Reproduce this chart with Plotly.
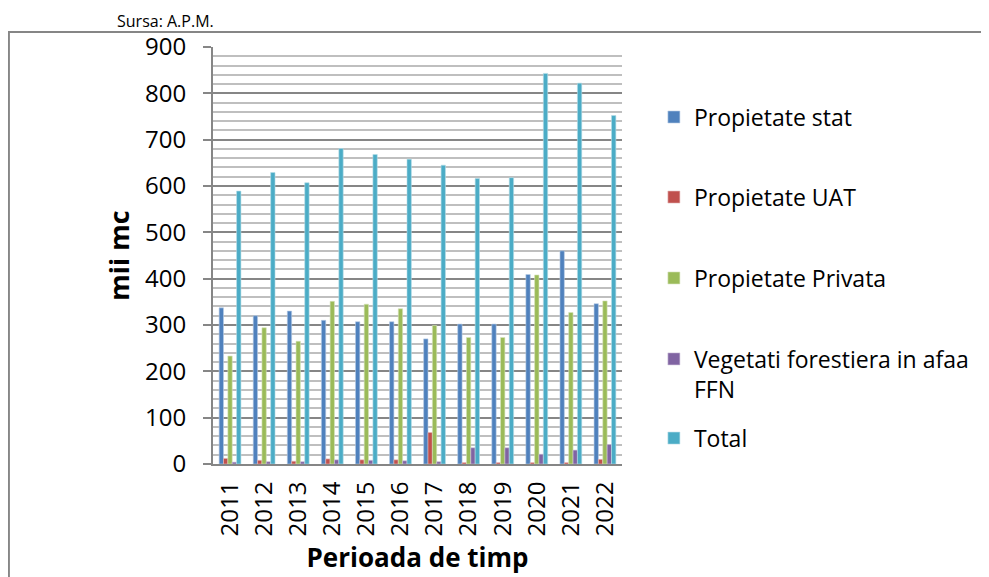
import plotly.graph_objects as go

years = ["2011", "2012", "2013", "2014", "2015", "2016", "2017", "2018", "2019", "2020", "2021", "2022"]
stat = [337, 320, 330, 310, 307, 307, 270, 302, 302, 409, 460, 346]
uat = [12, 8, 6, 11, 9, 9, 68, 3, 3, 3, 3, 10]
privata = [233, 294, 265, 351, 345, 335, 299, 273, 273, 408, 327, 352]
vegetatie = [4, 5, 5, 9, 8, 7, 5, 35, 35, 21, 30, 42]
total = [589, 629, 607, 681, 668, 658, 645, 616, 618, 843, 822, 752]

names = ["Propietate stat", "Propietate UAT", "Propietate Privata",
         "Vegetati forestiera in afaa<br>FFN", "Total"]
colors = ["#4F81BD", "#C0504D", "#9BBB59", "#8064A2", "#4BACC6"]
edges = ["#B9CDE5", "#E6B9B8", "#D7E4BD", "#CCC1DA", "#B7DEE8"]
series = [stat, uat, privata, vegetatie, total]
legend_ids = ["legend", "legend2", "legend3", "legend4", "legend5"]
legend_y = [0.832, 0.640, 0.446, 0.216, 0.062]

font = "Open Sans, Liberation Sans, sans-serif"

fig = go.Figure()
for n, c, e, s, lid in zip(names, colors, edges, series, legend_ids):
    fig.add_trace(go.Bar(
        x=years, y=s, name=n, legend=lid,
        marker=dict(color=c, line=dict(color=e, width=0.6)),
    ))

legends = {}
for lid, ly in zip(legend_ids, legend_y):
    legends[lid] = dict(x=1.078, y=ly, xanchor="left", yanchor="middle",
                        font=dict(size=23, family=font, color="black"),
                        bgcolor="rgba(0,0,0,0)", valign="top")

fig.update_layout(
    width=981, height=569,
    margin=dict(l=205, r=367, t=39, b=113),
    paper_bgcolor="white", plot_bgcolor="white",
    barmode="group", bargap=0.36, bargroupgap=0,
    font=dict(family=font, size=24, color="black"),
    showlegend=True,
    xaxis=dict(
        showline=True, linecolor="#868686", linewidth=2,
        tickangle=-90, ticks="", tickfont=dict(size=24),
        ticklabelstandoff=6, automargin=False,
        title=dict(text="<b>Perioada de timp</b>", font=dict(size=26), standoff=13),
    ),
    yaxis=dict(
        range=[0, 900], dtick=100, tick0=0,
        showline=True, linecolor="#868686", linewidth=2,
        ticks="outside", ticklen=8, tickcolor="#868686", tickwidth=2,
        ticklabelstandoff=12, automargin=False,
        showgrid=True, gridcolor="#868686", gridwidth=2,
        minor=dict(dtick=20, showgrid=True, gridcolor="#BFBFBF", gridwidth=2),
        tickfont=dict(size=24), zeroline=False,
        title=dict(text="<b>mii mc</b>", font=dict(size=27), standoff=8),
    ),
    shapes=[dict(type="rect", xref="paper", yref="paper",
                 x0=-0.499, x1=2.0, y0=-0.5, y1=1.036,
                 line=dict(color="#868686", width=2), layer="below")],
    annotations=[dict(text="Sursa: A.P.M.", xref="paper", yref="paper",
                      x=-0.24, y=1.093, xanchor="left", yanchor="top",
                      showarrow=False, font=dict(size=16, family=font))],
    **legends,
)

fig.write_html("out.html")
